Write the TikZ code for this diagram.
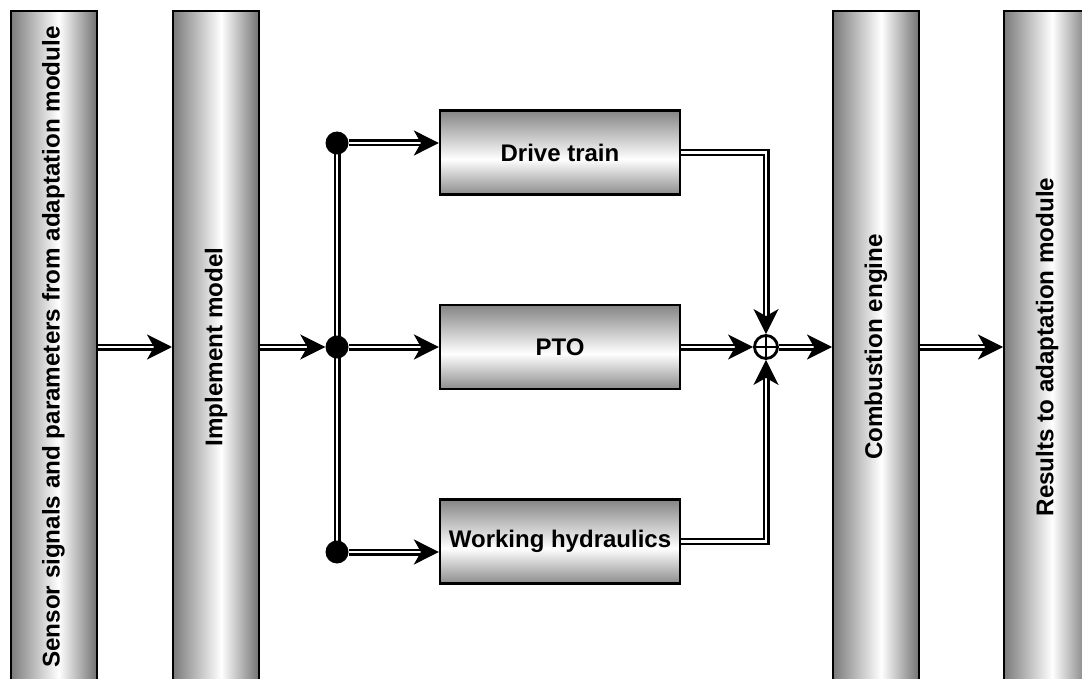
\documentclass[tikz,border=0pt]{standalone}
\usepackage{fontspec}
\setmainfont{Liberation Sans}
\usetikzlibrary{arrows.meta}

% horizontal metallic shading for the tall columns
\pgfdeclarehorizontalshading{barshade}{100bp}{color(0bp)=(black!52); color(25bp)=(black!52); color(53bp)=(white); color(75bp)=(black!55); color(100bp)=(black!55)}
% vertical metallic shading for the subsystem boxes
\pgfdeclareverticalshading{boxshade}{100bp}{color(0bp)=(black!45); color(25bp)=(black!45); color(46bp)=(white); color(75bp)=(black!48); color(100bp)=(black!48)}

\pgfdeclarelayer{bg}
\pgfsetlayers{bg,main}

\tikzset{
  bar/.style={draw, line width=2pt, shading=barshade, minimum width=86pt,
    minimum height=672pt, inner sep=0pt, font=\bfseries\fontsize{24.2}{28}\selectfont},
  unit/.style={draw, line width=2.2pt, shading=boxshade, minimum width=240pt,
    minimum height=84pt, inner sep=0pt, font=\bfseries\fontsize{24}{28}\selectfont},
  jdot/.style={circle, fill=black, minimum size=23pt, inner sep=0pt},
  sumc/.style={circle, draw, line width=2.8pt, fill=white, minimum size=23pt, inner sep=0pt},
  dbl/.style={draw, line width=2.4pt, double=white, double distance=2.2pt},
  tip/.style={-{Stealth[length=25pt, width=25pt, inset=7pt]}}
}

\begin{document}
\begin{tikzpicture}[x=1pt, y=-1pt]
  \clip (0,0) rectangle (1082,679);

  % columns
  \node[bar] (b1) at (53.5,347) {\rotatebox{90}{Sensor signals and parameters from adaptation module}};
  \node[bar] (b2) at (216,347)  {\rotatebox{90}{Implement model}};
  \node[bar] (b3) at (876,347)  {\rotatebox{90}{Combustion engine}};
  \node[bar] (b4) at (1047,347) {\rotatebox{90}{Results to adaptation module}};

  % subsystem boxes
  \node[unit] (dt)  at (560,152.5) {Drive train};
  \node[unit] (pto) at (560,347)   {PTO};
  \node[unit] (wh)  at (560,541.5) {Working hydraulics};

  % branching points and summation
  \node[jdot] (j1) at (337,143) {};
  \node[jdot] (j2) at (337,347) {};
  \node[jdot] (j3) at (337,552) {};
  \node[sumc] (s) at (766,347) {};
  \draw[line width=1.6pt] (s.north) -- (s.south) (s.west) -- (s.east);

  \begin{pgfonlayer}{bg}
    \draw[dbl] (j1.center) -- (j3.center);
  \end{pgfonlayer}

  % signal flow
  \draw[dbl, tip] (b1) -- (b2);
  \draw[dbl, tip] (b2) -- (j2);
  \draw[dbl, tip] (j1) -- (dt.west |- j1);
  \draw[dbl, tip] (j2) -- (pto);
  \draw[dbl, tip] (j3) -- (wh.west |- j3);
  \draw[dbl, tip] (dt.east) -| (s.north);
  \draw[dbl, tip] (pto) -- (s);
  \draw[dbl, tip] (wh.east) -| (s.south);
  \draw[dbl, tip] (s) -- (b3);
  \draw[dbl, tip] (b3) -- (b4);
\end{tikzpicture}
\end{document}
